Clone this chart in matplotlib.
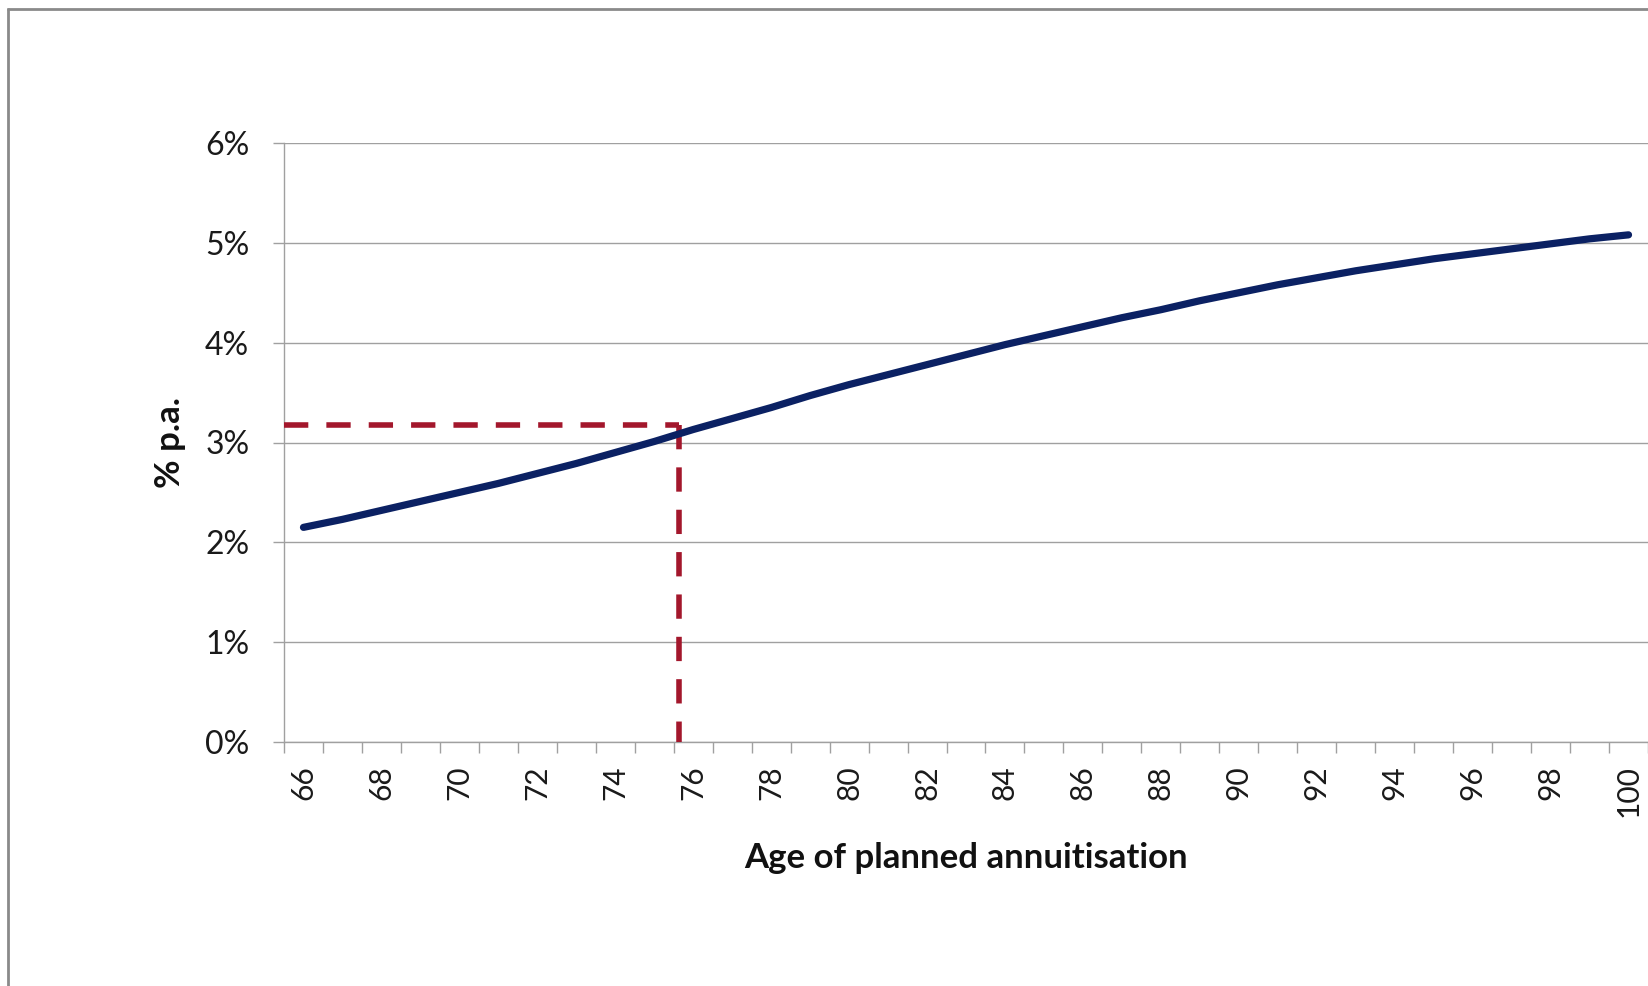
import matplotlib
matplotlib.use("Agg")
import matplotlib.pyplot as plt
from matplotlib.lines import Line2D
from matplotlib.ticker import FixedLocator, FuncFormatter

# Required real return (% p.a.) by age of planned annuitisation
ages = list(range(66, 101))
rate_pct = [2.15, 2.23, 2.32, 2.41, 2.50, 2.59, 2.69, 2.79, 2.90, 3.01,
            3.13, 3.24, 3.35, 3.47, 3.58, 3.68, 3.78, 3.88, 3.98, 4.07,
            4.16, 4.25, 4.33, 4.42, 4.50, 4.58, 4.65, 4.72, 4.78, 4.84,
            4.89, 4.94, 4.99, 5.04, 5.08]
y_ticks = [0, 1, 2, 3, 4, 5, 6]
x_label_ages = list(range(66, 101, 2))

# Reference marker: planned age and corresponding rate
marker_age = 75.64
marker_rate = 3.18

plt.rcParams["font.family"] = ["Lato", "DejaVu Sans"]

W, H, DPI = 1649, 986, 100
fig = plt.figure(figsize=(W / DPI, H / DPI), dpi=DPI)
fig.patch.set_facecolor("white")

# Chart-area frame (left and top edges visible)
frame_c = "#8a8a8a"
fig.add_artist(Line2D([8.5 / W, 8.5 / W], [0, 1 - 8 / H], transform=fig.transFigure,
                      color=frame_c, lw=2.0, solid_capstyle="butt"))
fig.add_artist(Line2D([7.5 / W, 1], [1 - 8.5 / H, 1 - 8.5 / H], transform=fig.transFigure,
                      color=frame_c, lw=2.0, solid_capstyle="butt"))

left, right = 284 / W, 1648 / W
bottom, top = 1 - 742 / H, 1 - 143 / H
ax = fig.add_axes([left, bottom, right - left, top - bottom])

grid_c = "#a0a0a0"
ax.set_xlim(65.5, 100.5)
ax.set_ylim(0, 6)

ax.yaxis.set_major_locator(FixedLocator(y_ticks))
ax.yaxis.set_major_formatter(FuncFormatter(lambda v, p: f"{v:.0f}%"))
ax.grid(axis="y", color=grid_c, lw=1.0, zorder=0)

# category boundaries carry tick marks, centres carry labels
ax.xaxis.set_major_locator(FixedLocator([a - 0.5 for a in ages] + [ages[-1] + 0.5]))
ax.xaxis.set_major_formatter(FuncFormatter(lambda v, p: ""))
ax.xaxis.set_minor_locator(FixedLocator(x_label_ages))
ax.xaxis.set_minor_formatter(FuncFormatter(lambda v, p: f"{v:.0f}"))

ax.tick_params(axis="x", which="major", direction="out", length=8, width=1.0, color=grid_c)
ax.tick_params(axis="x", which="minor", length=0, pad=17, labelsize=21.5,
               labelrotation=90, labelcolor="#1a1a1a")
ax.tick_params(axis="y", which="major", direction="out", length=8, width=1.0, color=grid_c,
               pad=17, labelsize=23, labelcolor="#1a1a1a")

for s in ("top", "right"):
    ax.spines[s].set_visible(False)
for s in ("left", "bottom"):
    ax.spines[s].set_color(grid_c)
    ax.spines[s].set_linewidth(1.0)

ax.plot(ages, rate_pct, color="#0b2163", lw=5.2, solid_capstyle="round",
        solid_joinstyle="round", zorder=4, clip_on=False)

red = "#a3172c"
lw_r = 4.0
ax.plot([65.5, marker_age], [marker_rate, marker_rate], color=red, lw=lw_r,
        dashes=(17.5 / lw_r, 13 / lw_r), dash_capstyle="butt", zorder=3, clip_on=False)
ax.plot([marker_age, marker_age], [marker_rate, 0], color=red, lw=lw_r,
        dashes=(17.5 / lw_r, 13 / lw_r), dash_capstyle="butt", zorder=3, clip_on=False)

fig.text(966 / W, 1 - 858 / H, "Age of planned annuitisation", ha="center", va="center",
         fontsize=25, fontweight="bold", color="#111111")
fig.text(170 / W, 1 - 442 / H, "% p.a.", ha="center", va="center", rotation=90,
         fontsize=25, fontweight="bold", color="#111111")

fig.savefig("out.png", dpi=DPI, facecolor="white")
